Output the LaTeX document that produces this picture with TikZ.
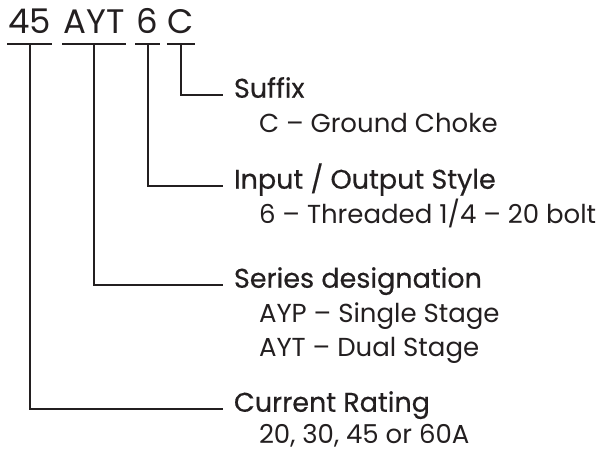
\documentclass[tikz,border=0pt]{standalone}
\usepackage{fontspec}
\setmainfont{Poppins}
\newfontfamily\headfont[FakeBold=0.4]{Poppins}
\definecolor{ink}{HTML}{231F20}

\begin{document}
\begin{tikzpicture}[
                    x=1pt, y=-1pt,
                    ink,
                    line width=2pt,
                    code/.style={inner sep=0pt, text depth=10pt, anchor=base,
                                 font=\fontsize{34}{34}\selectfont},
                    head/.style={inner xsep=10pt, inner ysep=0pt, anchor=mid west,
                                 font=\fontsize{27}{33}\selectfont\headfont},
                    desc/.style={inner sep=0pt, anchor=base west,
                                 font=\fontsize{26}{33}\selectfont}
                ]
                \useasboundingbox (0,0) rectangle (604,456);

                % part number
                \node (n45)  [code, minimum width=43pt] at (29.5,33)  {45};
                \node (nAYT) [code, minimum width=58pt] at (94,33)    {AYT};
                \node (n6)   [code, minimum width=23pt] at (147.5,33) {6};
                \node (nC)   [code, minimum width=24pt] at (181,33)   {C};

                % headings
                \node (hSuf) [head] at (223,95)  {Suffix};
                \node (hIO)  [head] at (223,186) {Input / Output Style};
                \node (hSer) [head] at (223,285) {Series designation};
                \node (hCur) [head] at (223,409) {Current Rating};

                % descriptions
                \node (dSuf)  [desc] at ([shift={(35,35)}]hSuf.base west) {C – Ground Choke};
                \node (dIO)   [desc] at ([shift={(35,35)}]hIO.base west)  {6 – Threaded 1/4 – 20 bolt};
                \node (dSerP) [desc] at ([shift={(35,35)}]hSer.base west) {AYP – Single Stage};
                \node (dSerT) [desc] at ([shift={(0,34)}]dSerP.base west) {AYT – Dual Stage};
                \node (dCur)  [desc] at ([shift={(35,32)}]hCur.base west) {20, 30, 45 or 60A};

                \draw (n45.south west)  -- (n45.south east);
                \draw (nAYT.south west) -- (nAYT.south east);
                \draw (n6.south west)   -- (n6.south east);
                \draw (nC.south west)   -- (nC.south east);

                \draw (nC.south)   |- (hSuf.mid west);
                \draw (n6.south)   |- (hIO.mid west);
                \draw (nAYT.south) |- (hSer.mid west);
                \draw (n45.south)  |- (hCur.mid west);
            \end{tikzpicture}
\end{document}
